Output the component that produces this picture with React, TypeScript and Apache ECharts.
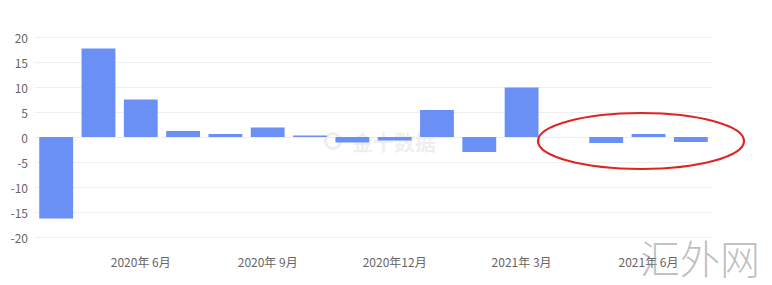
import React, { useEffect, useRef } from "react";
import * as echarts from "echarts";

const categories = [
  "2020年 4月", "2020年 5月", "2020年 6月", "2020年 7月", "2020年 8月", "2020年 9月",
  "2020年10月", "2020年11月", "2020年12月", "2021年 1月", "2021年 2月", "2021年 3月",
  "2021年 4月", "2021年 5月", "2021年 6月", "2021年 7月",
];
const values: (number | null)[] = [
  -16.3, 17.7, 7.5, 1.2, 0.6, 1.9, 0.3, -1.1, -0.7, 5.4, -3.0, 9.9, null, -1.2, 0.6, -1.0,
];
const yTicks = { min: -20, max: 20, interval: 5 };

export default function App() {
  const ref = useRef<HTMLDivElement>(null);
  useEffect(() => {
    document.body.style.margin = "0";
    const chart = echarts.init(ref.current!, undefined, { renderer: "svg" });
    chart.setOption({
      animation: false,
      backgroundColor: "#ffffff",
      grid: { left: 35, right: 60, top: 37, bottom: 48 },
      xAxis: {
        type: "category",
        data: categories,
        axisLine: { show: false },
        axisTick: { show: false },
        axisLabel: {
          interval: (i: number) => i % 3 === 2,
          color: "#666",
          fontSize: 12,
          margin: 18,
          fontFamily: "Noto Sans CJK SC",
        },
      },
      yAxis: {
        type: "value",
        min: yTicks.min,
        max: yTicks.max,
        interval: yTicks.interval,
        axisLine: { show: false },
        axisTick: { show: false },
        axisLabel: { color: "#666", fontSize: 12, margin: 7, fontFamily: "Noto Sans CJK SC" },
        splitLine: { lineStyle: { color: "#eeeeee", width: 1 } },
      },
      series: [
        {
          type: "bar",
          data: values,
          barCategoryGap: "20%",
          itemStyle: { color: "#6b90f5" },
        },
      ],
      graphic: [
        {
          type: "ring",
          shape: { cx: 333, cy: 141, r: 9, r0: 6 },
          style: { fill: "rgba(200,200,200,0.3)" },
          silent: true,
        },
        {
          type: "text",
          x: 352,
          y: 141,
          style: {
            text: "金十数据",
            fill: "rgba(200,200,200,0.3)",
            font: "bold 21px 'Noto Sans CJK SC'",
            verticalAlign: "middle",
          },
          silent: true,
        },
        {
          type: "ellipse",
          shape: { cx: 641, cy: 141, rx: 103, ry: 28 },
          style: { fill: "none", stroke: "#e02424", lineWidth: 2.2 },
          z: 100,
        },
        {
          type: "text",
          x: 640,
          y: 257,
          style: {
            text: "汇外网",
            fill: "rgba(150,150,150,0.6)",
            font: "300 40px 'Noto Sans CJK SC'",
            verticalAlign: "middle",
          },
          z: 100,
        },
      ],
    });
    return () => chart.dispose();
  }, []);
  return <div ref={ref} style={{ width: 772, height: 285 }} />;
}
